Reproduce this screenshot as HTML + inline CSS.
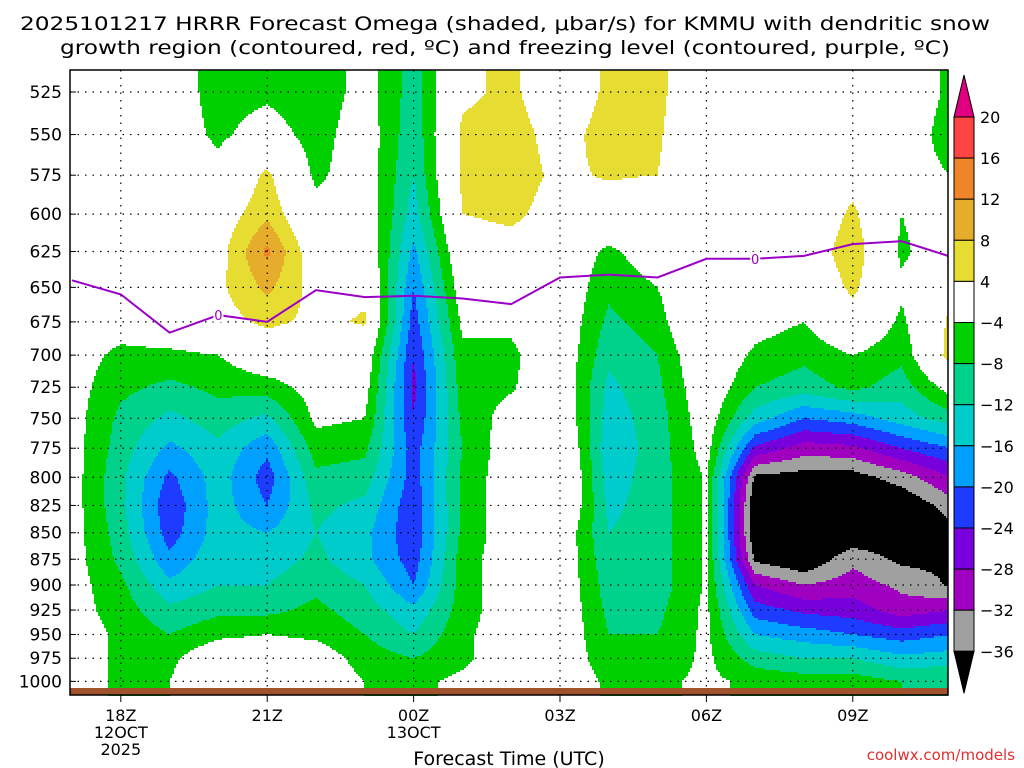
<!DOCTYPE html>
<html><head><meta charset="utf-8">
<style>
body{margin:0;background:#fff;width:1024px;height:768px;overflow:hidden}
svg{display:block}
text{font-family:"DejaVu Sans","Liberation Sans",sans-serif;fill:#000}
</style></head>
<body>
<svg id="chart" width="1024" height="768" viewBox="0 0 1024 768">
<text x="505" y="30" font-size="19" text-anchor="middle" textLength="970" lengthAdjust="spacingAndGlyphs">2025101217 HRRR Forecast Omega (shaded, μbar/s) for KMMU with dendritic snow</text>
<text x="505" y="54" font-size="19" text-anchor="middle" textLength="890" lengthAdjust="spacingAndGlyphs">growth region (contoured, red, ºC) and freezing level (contoured, purple, ºC)</text>
<g id="fill"></g>
<g id="grid"></g>
<rect x="70" y="688" width="878" height="7" fill="#a0522d"/>
<polyline id="frz" fill="none" stroke="#9a00c8" stroke-width="2"/>
<g id="frzlab"></g>
<rect x="70" y="70" width="878" height="625" fill="none" stroke="#000" stroke-width="1.5"/>
<g id="yaxis"></g>
<g id="xaxis"></g>
<text x="509" y="765" font-size="19" text-anchor="middle">Forecast Time (UTC)</text>
<text x="1015" y="760" font-size="15" text-anchor="end" style="fill:#e03030">coolwx.com/models</text>
<g id="cbar"></g>
</svg>
<script>
const hours=[17,18,19,20,21,22,23,24,25,26,27,28,29,30,31,32,33,34,35];
const levels=[525,550,575,600,625,650,675,700,725,750,775,800,825,850,875,900,925,950,975,1000];
const omega=[
[-1,-1,-1,-1,-1,-1,-1,-2,-2,-2,-2,-2,-2,-2,-2,-2,-2,-1,-1,-1],
[-2,-2,-2,-2,-2,-2,-2,-5,-7,-9,-10,-11,-11,-10,-9,-7,-6,-5,-5,-5],
[-1,-1,-1,-1,0,0,0,-5,-9,-13,-17,-21,-23,-22,-19,-15,-11,-8,-5,-4],
[-6,-5,-2,1,2,3,2,-4,-7,-10,-13,-14,-14,-14,-13,-12,-9,-5,0,1],
[-5,-1.5,5,7,13,9,5,0,-6,-13,-19,-22,-20,-16,-14,-12,-9,-4,0,1],
[-7,-6,-5,-2,0,2,3,-1,-2,-3,-6,-9,-11,-12,-11,-9,-7,-5,-1,0],
[-2,-1,-1,0,1,3,4.5,0,-2,-4,-7,-10,-13,-15,-15,-12,-10,-8,-6,-4],
[-10,-11,-12,-14,-17,-20,-22,-24,-25,-24,-22,-22,-23,-23,-22,-20,-15,-12,-8,-5],
[3,5,5,4,1,-1,-3,-5,-6,-7,-8,-7,-7,-7,-6,-6,-6,-5,-5,-3],
[5,6,6,5,2,0,-3,-5,-4.5,-2,-1,-1,-1,-1,-1,-1,-1,-1,-1,-1],
[0,2,3,2,0,0,0,0,0,1,3,4,3,0,0,0,0,0,0,0],
[5,6,4.5,1,-5,-7,-9,-11,-13,-14,-15,-14,-13,-12,-11,-10,-9,-8,-7,-5],
[5,4.5,4,-1,-1,-4,-6,-8,-9,-10,-10,-10,-10,-10,-10,-10,-9,-8,-7,-5],
[0,0,0,0,3,3,4,1,0,-1,-2,-3.5,-3.5,-3.5,-3.5,-3.5,-3,-3,-3,-3],
[-1,-1,-1,-1,-1,0,-2,-5,-8,-14,-25,-37,-40,-40,-37,-28,-22,-16,-10,-5],
[-1,-1,-1,-1,0,-1,-4,-7,-10,-20,-30,-38,-42,-42,-40,-32,-25,-18,-12,-6],
[0,0,2,5,7,5,2,-4,-7,-18,-29,-38,-42,-40,-33,-30,-26,-20,-12,-6],
[0,-1,-2,-4,-5,-3,-5,-7,-10,-14,-24,-34,-40,-40,-37,-33,-30,-22,-15,-8],
[-5,-6,-4,0,0,3,5,6,-2,-10,-20,-28,-34,-38,-37,-36.5,-28,-20,-14,-8]
];
const frzHours=[17,18,19,20,21,22,23,24,25,26,27,28,29,30,31,32,33,34,35];
const frzLevel=[645,655,683,670,675,652,657,656,658,662,643,641,643,630,630,628,620,618,628];
const cbLabels=[20,16,12,8,4,-4,-8,-12,-16,-20,-24,-28,-32,-36];
const yTicks=[525,550,575,600,625,650,675,700,725,750,775,800,825,850,875,900,925,950,975,1000];
const xTicks=[{h:18,l:["18Z","12OCT","2025"]},{h:21,l:["21Z"]},{h:24,l:["00Z","13OCT"]},{h:27,l:["03Z"]},{h:30,l:["06Z"]},{h:33,l:["09Z"]}];

const NS="http://www.w3.org/2000/svg";
const X0=70,X1=948,Y0=70,Y1=695;
const xs=h=>72+(h-17)*48.8;
const ys=p=>92+(Math.log(p)-Math.log(525))*914.7;
const hx=x=>17+(x-72)/48.8;
const py=y=>Math.exp((y-92)/914.7+Math.log(525));
const bounds=[20,16,12,8,4,-4,-8,-12,-16,-20,-24,-28,-32,-36];
const colors=["#e0007f","#ff4444","#f08428","#e6ac2c","#e6dc32","#ffffff","#00d000","#00d28c","#00cccc","#00a0ff","#1e3cff","#7800dc","#a000c0","#a0a0a0","#000000"];
function colorOf(v){for(let i=0;i<bounds.length;i++){if(v>=bounds[i])return colors[i];}return colors[colors.length-1];}
function mk(tag,attrs,parent){const e=document.createElementNS(NS,tag);for(const k in attrs)e.setAttribute(k,attrs[k]);parent.appendChild(e);return e;}
function val(h,p){
  let hi=Math.max(0,Math.min(hours.length-1.0001,(h-hours[0])));
  let i=Math.floor(hi),fx=hi-i;
  let li;
  if(p<=levels[0])li=0;else if(p>=levels[levels.length-1])li=levels.length-1.0001;
  else{for(let k=0;k<levels.length-1;k++){if(p>=levels[k]&&p<=levels[k+1]){li=k+(p-levels[k])/(levels[k+1]-levels[k]);break;}}}
  let j=Math.min(Math.floor(li),levels.length-2),fy=li-j;
  const a=omega[i][j],b=omega[i+1][j],c=omega[i][j+1],d=omega[i+1][j+1];
  return a*(1-fx)*(1-fy)+b*fx*(1-fy)+c*(1-fx)*fy+d*fx*fy;
}
const fill=document.getElementById('fill');
const DX=2,DY=2;
for(let y=Y0;y<Y1;y+=DY){
  const p=py(y+DY/2);let runStart=X0,runCol=null;
  for(let x=X0;x<=X1;x+=DX){
    const c=x<X1?colorOf(val(hx(x+DX/2),p)):null;
    if(c!==runCol){
      if(runCol&&runCol!=="#ffffff"){
        const r=mk('rect',{x:runStart,y:y,width:x-runStart,height:DY,fill:runCol},fill);
        
        
      }
      runStart=x;runCol=c;
    }
  }
}
const grid=document.getElementById('grid');
yTicks.forEach(p=>{const l=mk('line',{x1:X0,x2:X1,y1:ys(p),y2:ys(p),stroke:"#000","stroke-width":1.2,"stroke-dasharray":"1.5 6"},grid);

});
xTicks.forEach(t=>{const l=mk('line',{x1:xs(t.h),x2:xs(t.h),y1:Y0,y2:Y1,stroke:"#000","stroke-width":1.2,"stroke-dasharray":"1.5 6"},grid);

});
document.getElementById('frz').setAttribute('points',frzHours.map((h,i)=>Math.max(X0,Math.min(X1,xs(h)))+","+ys(frzLevel[i])).join(" "));
const fl=document.getElementById('frzlab');
[[20,670],[31,630]].forEach(([h,p])=>{
  mk('rect',{x:xs(h)-5,y:ys(p)-7,width:10,height:14,fill:"#fff"},fl);
  const t=mk('text',{x:xs(h),y:ys(p)+5,"font-size":13,"text-anchor":"middle",style:"fill:#9a00c8"},fl);t.textContent="0";
  
  
});
const ya=document.getElementById('yaxis');
yTicks.forEach(p=>{
  mk('line',{x1:X0,x2:X0+6,y1:ys(p),y2:ys(p),stroke:"#000"},ya);
  const t=mk('text',{x:62,y:ys(p)+6,"font-size":17,"text-anchor":"end"},ya);t.textContent=p;
  
  
});
const xa=document.getElementById('xaxis');
xTicks.forEach(tk=>{
  mk('line',{x1:xs(tk.h),x2:xs(tk.h),y1:Y1,y2:Y1+7,stroke:"#000"},xa);
  tk.l.forEach((s,k)=>{const t=mk('text',{x:xs(tk.h),y:721+k*17,"font-size":16,"text-anchor":"middle"},xa);t.textContent=s;
  
  });
});
const cb=document.getElementById('cbar');
const cx=954,cw=20,cy0=117,step=41.1;
mk('polygon',{points:`${cx},${cy0} ${cx+cw},${cy0} ${cx+cw/2},${cy0-42}`,fill:colors[0],stroke:"#000"},cb);
for(let i=0;i<bounds.length-1;i++){
  const r=mk('rect',{x:cx,y:cy0+i*step,width:cw,height:step,fill:colors[i+1],stroke:"#000","stroke-width":1},cb);
  
  
}
const cyEnd=cy0+(bounds.length-1)*step;
mk('polygon',{points:`${cx},${cyEnd} ${cx+cw},${cyEnd} ${cx+cw/2},${cyEnd+42}`,fill:"#000",stroke:"#000"},cb);
cbLabels.forEach((v,i)=>{const t=mk('text',{x:980,y:cy0+i*step+6,"font-size":16},cb);t.textContent=v<0?"−"+(-v):v;

});
</script>
</body></html>
